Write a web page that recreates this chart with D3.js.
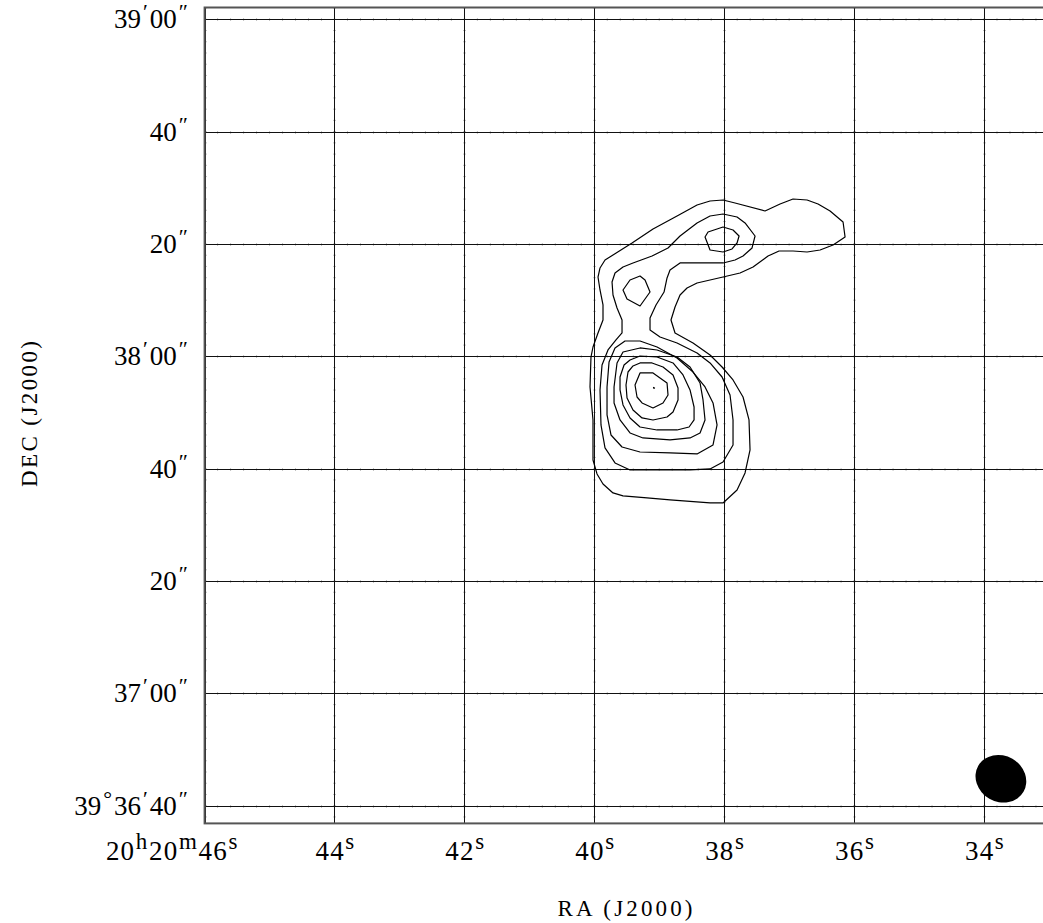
<!DOCTYPE html>
<html><head><meta charset="utf-8">
<script src="https://cdn.jsdelivr.net/npm/d3@7"></script>
<style>html,body{margin:0;padding:0;background:#fff;overflow:hidden}</style>
</head><body><svg id="c" width="1043" height="923"></svg>
<script>
// RA in seconds of 20h20m, DEC in arcsec above +39d36'00"
const raTicks = [46, 44, 42, 40, 38, 36, 34];
const raTickLabels = ["20^h20^m46^s", "44^s", "42^s", "40^s", "38^s", "36^s", "34^s"];
const decTicks = [40, 60, 80, 100, 120, 140, 160, 180];
const decTickLabels = ["39^°36^′40^″", "37^′00^″", "20^″", "40^″", "38^′00^″", "20^″", "40^″", "39^′00^″"];
const raDomain = [46, 33.05];
const decDomain = [36.85, 182.1];

const level1 = [[39.943,124.16],[39.866,126.47],[39.866,129.14],[39.912,131.81],[39.943,134.12],[39.912,135.73],[39.835,137.15],[39.712,138.04],[39.419,140.18],[39.096,142.67],[38.726,144.98],[38.418,146.94],[38.218,147.65],[38.018,147.83],[37.833,147.30],[37.371,145.87],[37.140,147.12],[36.940,148.01],[36.724,147.83],[36.555,147.12],[36.370,145.87],[36.170,143.91],[36.139,141.24],[36.324,139.82],[36.524,138.93],[36.724,138.57],[36.940,138.75],[37.156,138.75],[37.325,137.86],[37.556,135.90],[37.756,134.84],[38.018,134.12],[38.418,133.06],[38.572,132.17],[38.680,130.92],[38.757,128.78],[38.819,126.47],[38.757,124.16],[38.480,122.38],[38.218,120.24],[38.033,118.10],[37.864,115.79],[37.710,112.76],[37.618,108.67],[37.602,103.33],[37.679,99.24],[37.802,96.21],[38.018,93.90],[38.218,93.90],[38.834,94.44],[39.188,94.79],[39.558,95.15],[39.712,95.68],[39.866,97.28],[39.958,99.06],[40.020,101.55],[40.020,108.67],[40.066,114.54],[40.051,119.88],[40.020,121.66]];
const level2 = [[39.881,118.46],[39.789,121.13],[39.666,122.91],[39.573,124.16],[39.573,126.47],[39.650,128.61],[39.712,130.92],[39.727,133.23],[39.681,134.84],[39.558,135.90],[39.404,136.62],[39.111,137.86],[38.865,139.29],[38.680,141.42],[38.418,143.74],[38.218,144.98],[38.018,145.34],[37.802,144.80],[37.679,143.74],[37.525,141.42],[37.571,139.29],[37.710,137.86],[37.833,137.15],[38.018,136.62],[38.372,136.62],[38.680,136.62],[38.834,135.37],[38.880,133.95],[38.926,131.45],[39.050,129.14],[39.142,126.83],[39.142,124.69],[38.988,123.44],[38.726,122.38],[38.418,120.60],[38.218,118.82],[38.033,116.32],[37.910,113.12],[37.864,108.67],[37.864,104.22],[38.018,101.19],[38.218,99.95],[38.526,99.77],[38.988,99.77],[39.450,99.77],[39.681,101.02],[39.835,103.69],[39.897,107.78],[39.912,114.01]];
const level3a = [[39.558,131.81],[39.450,133.59],[39.296,134.30],[39.219,133.59],[39.142,131.45],[39.296,128.96],[39.496,130.21]];
const level3b = [[38.295,141.24],[38.249,142.13],[38.018,143.02],[37.864,142.49],[37.771,141.42],[37.802,140.18],[37.879,139.11],[38.018,138.57],[38.218,138.93]];
const level3c = [[39.527,122.73],[39.296,122.73],[39.034,121.66],[38.726,119.71],[38.480,117.21],[38.295,114.54],[38.172,111.70],[38.110,107.78],[38.172,104.22],[38.418,102.62],[38.834,102.80],[39.296,102.97],[39.573,103.86],[39.743,106.00],[39.804,109.56],[39.804,114.54],[39.773,118.99],[39.681,121.49]];
const level4 = [[39.558,120.77],[39.296,121.49],[39.034,121.13],[38.726,119.88],[38.526,118.10],[38.372,115.26],[38.326,112.23],[38.295,108.67],[38.372,106.36],[38.526,105.47],[38.834,105.11],[39.250,105.47],[39.450,106.36],[39.604,108.67],[39.696,111.70],[39.696,114.54],[39.650,118.82]];
const level5 = [[39.542,118.46],[39.450,119.35],[39.296,120.06],[39.034,119.88],[38.788,118.82],[38.634,116.68],[38.526,114.01],[38.464,110.98],[38.464,108.67],[38.541,107.42],[38.726,106.89],[39.034,106.89],[39.296,107.42],[39.450,109.03],[39.558,111.34],[39.604,114.01],[39.604,116.32]];
const level6 = [[39.481,117.21],[39.404,118.28],[39.296,118.82],[39.111,118.82],[38.942,118.10],[38.788,116.68],[38.711,114.37],[38.711,112.23],[38.788,110.09],[38.880,109.20],[39.096,108.67],[39.265,109.03],[39.404,110.45],[39.496,112.59],[39.512,114.90]];
const level7 = [[39.296,117.04],[39.096,117.04],[38.880,115.26],[38.865,113.12],[38.942,111.70],[39.096,110.81],[39.265,111.70],[39.342,112.76],[39.373,114.90]];
const level8 = [[39.088,114.46],[39.073,114.37],[39.080,114.28]];
const contours = [level1, level2, level3a, level3b, level3c, level4, level5, level6, level7, level8];

const beamCentre = [33.74, 44.8];   // RA s, DEC arcsec
const beamAxes = [9.3, 8.2];        // FWHM arcsec
const beamAngle = 30;               // degrees

const svg = d3.select('#c');
const x = d3.scaleLinear().domain(raDomain).range([204.6, 1045.7]);
const y = d3.scaleLinear().domain(decDomain).range([823.4, 7.5]);
const x0 = x(raDomain[0]), x1 = x(raDomain[1]);
const y0 = y(decDomain[1]), y1 = y(decDomain[0]);

svg.append('defs').append('clipPath').attr('id','clip')
  .append('rect').attr('x', x0).attr('y', y0).attr('width', x1 - x0).attr('height', y1 - y0);

const g = svg.append('g').attr('clip-path','url(#clip)');

// minor ticks along grid lines
const minorRA = d3.range(0, 66).map(k => 46 - 0.2 * k);
const minorDec = d3.range(38, 184, 2);
decTicks.forEach(dv => {
  g.selectAll(null).data(minorRA).join('line')
    .attr('x1', d => x(d)).attr('x2', d => x(d))
    .attr('y1', Math.round(y(dv)) + 0.5 - 1.5).attr('y2', Math.round(y(dv)) + 0.5 + 1.5)
    .attr('stroke', '#999').attr('stroke-width', 0.6);
});
raTicks.forEach(rv => {
  g.selectAll(null).data(minorDec).join('line')
    .attr('y1', d => y(d)).attr('y2', d => y(d))
    .attr('x1', Math.round(x(rv)) + 0.5 - 1.5).attr('x2', Math.round(x(rv)) + 0.5 + 1.5)
    .attr('stroke', '#999').attr('stroke-width', 0.6);
});

// grid lines
g.selectAll('line.gx').data(raTicks).join('line').attr('class','gx')
  .attr('x1', d => Math.round(x(d)) + 0.5).attr('x2', d => Math.round(x(d)) + 0.5)
  .attr('y1', y0).attr('y2', y1).attr('stroke', '#111').attr('stroke-width', 1);
g.selectAll('line.gy').data(decTicks).join('line').attr('class','gy')
  .attr('y1', d => Math.round(y(d)) + 0.5).attr('y2', d => Math.round(y(d)) + 0.5)
  .attr('x1', x0).attr('x2', x1).attr('stroke', '#111').attr('stroke-width', 1);

// contours
const line = d3.line().x(d => x(d[0])).y(d => y(d[1])).curve(d3.curveLinearClosed);
g.selectAll('path.ct').data(contours).join('path').attr('class','ct')
  .attr('d', line).attr('fill', 'none').attr('stroke', '#000')
  .attr('stroke-width', 1.2).attr('stroke-linejoin', 'round');

// beam
const pxPerArcsec = Math.abs(y(1) - y(0));
g.append('ellipse')
  .attr('cx', x(beamCentre[0])).attr('cy', y(beamCentre[1]))
  .attr('rx', beamAxes[0] / 2 * pxPerArcsec).attr('ry', beamAxes[1] / 2 * pxPerArcsec)
  .attr('transform', `rotate(${beamAngle},${x(beamCentre[0])},${y(beamCentre[1])})`)
  .attr('fill', '#000');

// frame
svg.append('rect').attr('x', x0).attr('y', y0).attr('width', x1 - x0).attr('height', y1 - y0)
  .attr('fill', 'none').attr('stroke', '#555').attr('stroke-width', 2);

// labels with superscripts
const FONT = "'Liberation Serif','Times New Roman',serif";
function richText(sel, str, mainSize, supSize, shift, pad) {
  const runs = [];
  for (let i = 0; i < str.length; i++) {
    if (str[i] === '^') { runs.push({t: str[i+1], sup: true}); i++; }
    else {
      if (runs.length && !runs[runs.length-1].sup) runs[runs.length-1].t += str[i];
      else runs.push({t: str[i], sup: false});
    }
  }
  let cur = 0, prevSup = false;
  runs.forEach(r => {
    const target = r.sup ? -shift : 0;
    const ts = sel.append('tspan').attr('dy', target - cur)
      .attr('font-size', r.sup ? supSize : mainSize).text(r.t);
    if (r.sup || prevSup) ts.attr('dx', pad);
    cur = target; prevSup = r.sup;
  });
}

const labG = svg.append('g').attr('font-family', FONT).attr('fill', '#000');
raTicks.forEach((rv, i) => {
  const t = labG.append('text').attr('y', 859.5).attr('letter-spacing', 1.2);
  if (i === 0) t.attr('x', x(rv) + 34).attr('text-anchor', 'end');
  else t.attr('x', x(rv) + 1).attr('text-anchor', 'middle');
  richText(t, raTickLabels[i], 27, 23, 11, 0.5);
});
decTicks.forEach((dv, i) => {
  const t = labG.append('text').attr('x', 188).attr('y', y(dv) + 9).attr('text-anchor', 'end');
  richText(t, decTickLabels[i], 27, 22, 9, 2);
});

labG.append('text').attr('x', 625).attr('y', 916).attr('text-anchor', 'middle')
  .attr('font-size', 23).attr('textLength', 135).attr('lengthAdjust', 'spacing').text('RA (J2000)');
labG.append('text').attr('transform', 'translate(37,414) rotate(-90)').attr('text-anchor', 'middle')
  .attr('font-size', 23).attr('textLength', 146).attr('lengthAdjust', 'spacing').text('DEC (J2000)');
</script></body></html>
